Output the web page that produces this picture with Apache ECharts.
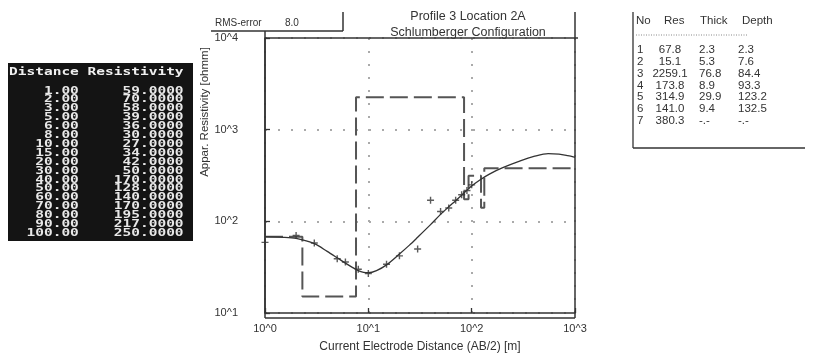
<!DOCTYPE html>
<html><head><meta charset="utf-8">
<script src="https://cdn.jsdelivr.net/npm/echarts@6/dist/echarts.min.js"></script>
<style>html,body{margin:0;padding:0;background:#fff}#c{width:817px;height:358px}</style>
</head><body><div id="c"></div>
<script>
// Measured data (AB/2 distance [m], apparent resistivity [ohmm])
const distances = [1, 2, 3, 5, 6, 8, 10, 15, 20, 30, 40, 50, 60, 70, 80, 90, 100];
const resistivities = [59, 70, 58, 39, 36, 30, 27, 34, 42, 50, 170, 128, 140, 170, 195, 217, 250];

// Layer model
const layerNo = [1, 2, 3, 4, 5, 6, 7];
const layerRes = [67.8, 15.1, 2259.1, 173.8, 314.9, 141.0, 380.3];
const layerThick = ['2.3', '5.3', '76.8', '8.9', '29.9', '9.4', '-.-'];
const layerDepth = ['2.3', '7.6', '84.4', '93.3', '123.2', '132.5', '-.-'];

// Model (computed) curve
const curveX = [1, 1.5, 2, 3, 4, 5, 6, 7, 8, 9, 10, 12, 15, 20, 25, 30, 40, 50, 60, 70, 80, 100, 120, 150, 200, 300, 400, 550, 700, 850, 1000];
const curveY = [68, 67, 65, 57, 47, 40, 35, 31.5, 29, 27.8, 27.5, 29, 33.5, 44, 55, 67, 92, 119, 144, 168, 193, 243, 283, 330, 385, 460, 510, 548, 540, 520, 500];

const xRange = [1, 1000];
const yRange = [10, 10000];
const rmsError = '8.0';
const titleLines = ['Profile 3 Location 2A', 'Schlumberger Configuration'];
const xAxisName = 'Current Electrode Distance (AB/2) [m]';
const yAxisName = 'Appar. Resistivity [ohmm]';
const tableHeader = ['Distance', 'Resistivity'];
const layerHeader = ['No', 'Res', 'Thick', 'Depth'];

// build series data
const measured = distances.map((d, i) => [d, resistivities[i]]);
const modelCurve = curveX.map((x, i) => [x, curveY[i]]);
const stepData = [];
let prevDepth = xRange[0];
layerRes.forEach((r, i) => {
  const end = (i < layerRes.length - 1) ? parseFloat(layerDepth[i]) : xRange[1];
  stepData.push([prevDepth, r]);
  stepData.push([end, r]);
  prevDepth = end;
});

const FONT = '"Liberation Sans", Arial, sans-serif';
const TXT = '#333';
const LINE = '#333';
const fmt = v => '10^' + Math.round(Math.log10(v));

const graphics = [];
const ln = (x1, y1, x2, y2, w) => graphics.push({type: 'line', z: 100, shape: {x1, y1, x2, y2}, style: {stroke: LINE, lineWidth: w || 1.5}});
// frame
ln(265, 31, 265, 318);
ln(265, 38, 578, 38);
ln(575, 12, 575, 318);
ln(265, 318, 575, 318);
ln(211, 31, 343, 31);
ln(343, 12, 343, 31);
// RMS and titles
graphics.push({type: 'text', x: 215, y: 23, style: {text: 'RMS-error', font: '10px ' + FONT, fill: TXT, textVerticalAlign: 'middle'}});
graphics.push({type: 'text', x: 285, y: 23, style: {text: rmsError, font: '10px ' + FONT, fill: TXT, textVerticalAlign: 'middle'}});
titleLines.forEach((t, i) => graphics.push({type: 'text', x: 468, y: 17 + i * 16, style: {text: t, font: '12.5px ' + FONT, fill: TXT, textAlign: 'center', textVerticalAlign: 'middle'}}));
// y axis name
graphics.push({type: 'text', x: 205, y: 112, rotation: Math.PI / 2, style: {text: yAxisName, font: '11.5px ' + FONT, fill: TXT, textAlign: 'center', textVerticalAlign: 'middle'}});

// left data table
graphics.push({type: 'rect', shape: {x: 8, y: 63, width: 185, height: 178}, style: {fill: '#141414'}});
const pad = (s, n) => (' '.repeat(n) + s).slice(-n);
const monoRow = (str, y, fill) => graphics.push({type: 'text', x: 9, y, scaleX: 1.45, style: {text: str, font: 'bold 10px "DejaVu Sans Mono", monospace', fill, textVerticalAlign: 'middle'}});
monoRow(tableHeader[0] + ' ' + tableHeader[1], 72, '#f0f0f0');
distances.forEach((d, i) => monoRow(pad(d.toFixed(2), 8) + pad(resistivities[i].toFixed(4), 12), 91 + i * 8.9, '#e8e8e8'));

// right layer table
ln(633, 12, 633, 148, 1.3);
ln(633, 148, 805, 148, 1.3);
graphics.push({type: 'line', shape: {x1: 636, y1: 35, x2: 748, y2: 35}, style: {stroke: '#888', lineWidth: 1, lineDash: [1, 1.5]}});
const hdrX = [636, 664, 700, 742];
const TF = '11.5px ' + FONT;
layerHeader.forEach((h, i) => graphics.push({type: 'text', x: hdrX[i], y: 21, style: {text: h, font: TF, fill: TXT, textVerticalAlign: 'middle'}}));
layerNo.forEach((n, i) => {
  const y = 50 + i * 11.8;
  const st = (text, x, align) => graphics.push({type: 'text', x, y, style: {text, font: TF, fill: TXT, textAlign: align, textVerticalAlign: 'middle'}});
  st(String(n), 637, 'left');
  st(layerRes[i].toFixed(1), 670, 'center');
  st(layerThick[i], 699, 'left');
  st(layerDepth[i], 738, 'left');
});

const axisCommon = {
  type: 'log', logBase: 10,
  axisLine: {show: true, lineStyle: {color: LINE, width: 1.5}},
  axisTick: {show: true, inside: true, length: 5, lineStyle: {color: LINE, width: 1.3}},
  axisLabel: {formatter: fmt, color: TXT, fontSize: 11, fontFamily: FONT},
  splitLine: {show: true, lineStyle: {type: [2, 11], color: '#aaa', width: 2}}
};

const chart = echarts.init(document.getElementById('c'), null, {renderer: 'canvas'});
chart.setOption({
  animation: false,
  backgroundColor: '#fff',
  grid: {left: 265, right: 242, top: 38, bottom: 40},
  xAxis: Object.assign({}, axisCommon, {
    min: xRange[0], max: xRange[1],
    name: xAxisName, nameLocation: 'middle', nameGap: 28,
    nameTextStyle: {color: TXT, fontSize: 12, fontFamily: FONT},
    axisLabel: Object.assign({}, axisCommon.axisLabel, {margin: 10})
  }),
  yAxis: Object.assign({}, axisCommon, {
    min: yRange[0], max: yRange[1],
    axisLabel: Object.assign({}, axisCommon.axisLabel, {margin: 27})
  }),
  series: [
    {type: 'line', data: stepData, symbol: 'none', lineStyle: {color: '#555', width: 2, type: [18, 6]}, z: 3},
    {type: 'line', data: modelCurve, symbol: 'none', smooth: 0.3, lineStyle: {color: '#333', width: 1.3}, z: 4},
    {type: 'scatter', data: measured, symbol: 'path://M4,0 H6 V4 H10 V6 H6 V10 H4 V6 H0 V4 H4 Z', symbolSize: 7, itemStyle: {color: '#333'}, z: 5}
  ],
  graphic: graphics
});
</script>
</body></html>
